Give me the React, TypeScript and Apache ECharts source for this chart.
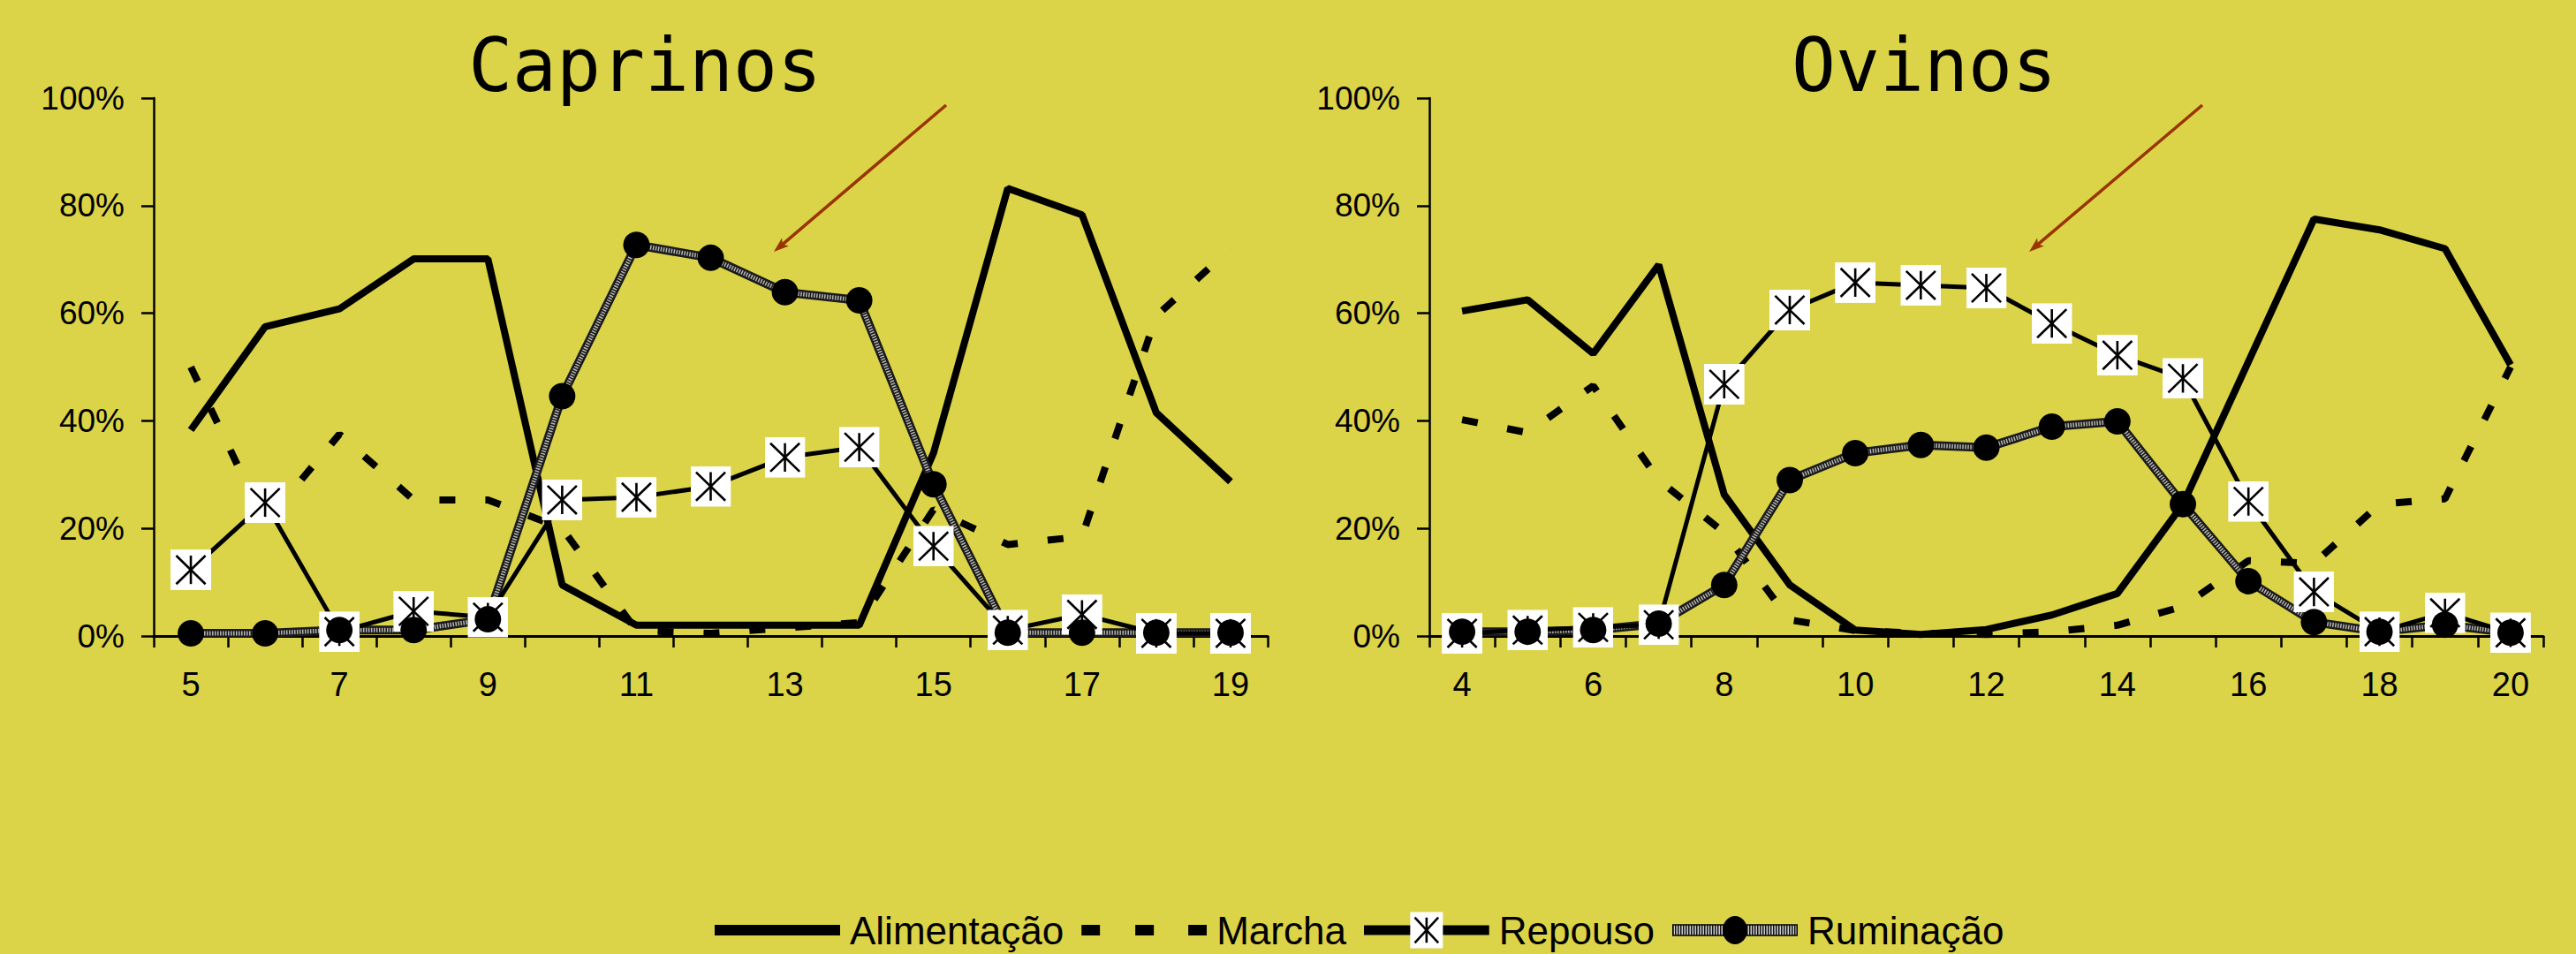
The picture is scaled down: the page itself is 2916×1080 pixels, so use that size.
import React, { useEffect, useRef } from "react";
import * as echarts from "echarts";

// ---------- data ----------
const caprinosHours = ["5", "6", "7", "8", "9", "10", "11", "12", "13", "14", "15", "16", "17", "18", "19"];
const ovinosHours = ["4", "5", "6", "7", "8", "9", "10", "11", "12", "13", "14", "15", "16", "17", "18", "19", "20"];

const capAlimentacao = [38.3, 57.5, 60.8, 70.1, 70.1, 9.5, 2, 2, 2, 2, 34, 83.2, 78.3, 41.5, 28.7];
const capMarcha = [50, 21, 37.5, 25.3, 25.3, 20, 1, 0.5, 1.5, 2.5, 23.5, 17, 18.5, 59.5, 72];
const capRepouso = [12.3, 24.8, 0.8, 4.6, 3.5, 25.3, 25.8, 27.8, 33.2, 35.1, 16.7, 1.1, 4, 0.5, 0.5];
const capRuminacao = [0.5, 0.5, 1.1, 1.1, 3.1, 44.6, 72.7, 70.3, 63.9, 62.4, 28.2, 0.6, 0.6, 0.6, 0.6];

const oviAlimentacao = [60.4, 62.5, 52.5, 69, 26.3, 9.5, 1.1, 0.3, 1.2, 3.9, 7.9, 24.5, 51, 77.5, 75.5, 72, 50.4];
const oviMarcha = [40.2, 37.8, 46.5, 29, 19.2, 3, 1, 0.5, 0.3, 0.8, 2, 5.5, 14, 13.5, 24.5, 25.5, 50];
const oviRepouso = [0.5, 1.1, 1.6, 2.1, 46.8, 60.6, 65.7, 65.2, 64.7, 58.1, 52.2, 47.9, 25, 8.2, 0.8, 4.3, 0.6];
const oviRuminacao = [0.8, 0.8, 1.1, 2.3, 9.5, 29, 34, 35.5, 35, 38.9, 39.9, 24.5, 10.2, 2.6, 0.8, 2.1, 0.6];

const titles = ["Caprinos", "Ovinos"];
const seriesNames = ["Alimentação", "Marcha", "Repouso", "Ruminação"];

// ---------- styling helpers ----------
const BG = "#dbd348";
const FONT = "Liberation Sans, Arial, sans-serif";

const svgImg = (w: number, h: number, body: string) =>
  "image://data:image/svg+xml;charset=utf-8," +
  encodeURIComponent(
    `<svg xmlns="http://www.w3.org/2000/svg" width="${w}" height="${h}" viewBox="0 0 ${w} ${h}">${body}</svg>`
  );

const asterisk = (x: number, y: number, w: number, h: number) => {
  const px = w * 0.14;
  const py = h * 0.15;
  return `<rect x="${x}" y="${y}" width="${w}" height="${h}" fill="#fff"/>
  <g stroke="#000" stroke-width="2.6">
  <line x1="${x + w / 2}" y1="${y + py}" x2="${x + w / 2}" y2="${y + h - py}"/>
  <line x1="${x + px}" y1="${y + py}" x2="${x + w - px}" y2="${y + h - py}"/>
  <line x1="${x + w - px}" y1="${y + py}" x2="${x + px}" y2="${y + h - py}"/>
  </g>`;
};

const repousoSymbol = svgImg(46, 46, asterisk(0, 0, 46, 46));

const LW = 142;
const LH = 46;
const hatchDefs = `<defs><pattern id="h" width="3" height="3" patternUnits="userSpaceOnUse"><rect width="3" height="3" fill="#d0d0d0"/><rect width="1.5" height="3" fill="#111"/></pattern></defs>`;
const legendIcons: Record<string, string> = {
  "Alimentação": svgImg(LW, LH, `<rect x="0" y="17" width="${LW}" height="12" fill="#000"/>`),
  "Marcha": svgImg(
    LW,
    LH,
    `<rect x="0" y="17" width="21" height="12" fill="#000"/><rect x="61" y="17" width="21" height="12" fill="#000"/><rect x="121" y="17" width="21" height="12" fill="#000"/>`
  ),
  "Repouso": svgImg(
    LW,
    LH,
    `<rect x="0" y="17.5" width="${LW}" height="11" fill="#000"/>` + asterisk(52.5, 2.5, 37, 41)
  ),
  "Ruminação": svgImg(
    LW,
    LH,
    hatchDefs +
      `<rect x="0.75" y="17" width="${LW - 1.5}" height="12" fill="url(#h)" stroke="#000" stroke-width="1.5"/><ellipse cx="${LW / 2}" cy="23" rx="14" ry="16" fill="#000"/>`
  ),
};

function arrow(x1: number, y1: number, x2: number, y2: number, color: string) {
  const dx = x2 - x1;
  const dy = y2 - y1;
  const len = Math.sqrt(dx * dx + dy * dy);
  const ux = dx / len;
  const uy = dy / len;
  const hl = 17;
  const hw = 6;
  const bx = x2 - ux * hl;
  const by = y2 - uy * hl;
  return [
    {
      type: "line",
      shape: { x1, y1, x2: bx + ux * 4, y2: by + uy * 4 },
      style: { stroke: color, lineWidth: 3.5 },
      z: 100,
    },
    {
      type: "polygon",
      shape: {
        points: [
          [x2, y2],
          [bx - uy * hw, by + ux * hw],
          [bx + ux * 4, by + uy * 4],
          [bx + uy * hw, by - ux * hw],
        ],
      },
      style: { fill: color },
      z: 100,
    },
  ];
}

function makeSeries(
  idx: number,
  alim: number[],
  marcha: number[],
  rep: number[],
  rum: number[]
) {
  const ax = { xAxisIndex: idx, yAxisIndex: idx };
  return [
    {
      ...ax,
      name: "Alimentação",
      type: "line",
      data: alim,
      symbol: "none",
      lineStyle: { color: "#000", width: 8 },
      itemStyle: { color: "#000" },
    },
    {
      ...ax,
      name: "Marcha",
      type: "line",
      data: marcha,
      symbol: "none",
      lineStyle: { color: "#000", width: 8, type: [18, 34] },
      itemStyle: { color: "#000" },
    },
    {
      ...ax,
      name: "Ruminação",
      type: "line",
      data: rum,
      symbol: "none",
      lineStyle: { color: "#1a1a1a", width: 10 },
      itemStyle: { color: "#000" },
    },
    {
      ...ax,
      type: "line",
      data: rum,
      symbol: "none",
      silent: true,
      lineStyle: { color: "#b5b5b5", width: 5, type: [1.5, 1.5] },
    },
    {
      ...ax,
      name: "Repouso",
      type: "line",
      data: rep,
      symbol: repousoSymbol,
      symbolSize: [46, 46],
      lineStyle: { color: "#000", width: 5 },
      itemStyle: { color: "#000" },
    },
    {
      ...ax,
      type: "line",
      data: rum,
      symbol: "circle",
      symbolSize: 30,
      silent: true,
      lineStyle: { width: 0, opacity: 0 },
      itemStyle: { color: "#000" },
    },
  ];
}

function App() {
  const ref = useRef<HTMLDivElement>(null);

  useEffect(() => {
    if (!ref.current) return;
    const chart = echarts.init(ref.current, undefined, { renderer: "svg" });

    const grids = [
      { left: 174, top: 111, width: 1261, height: 609 },
      { left: 1618, top: 111, width: 1261, height: 609 },
    ];
    const cats = [caprinosHours, ovinosHours];

    const xAxes = cats.map((c, i) => ({
      type: "category",
      gridIndex: i,
      data: c,
      boundaryGap: true,
      axisLine: { show: true, lineStyle: { color: "#000", width: 3 } },
      axisTick: { show: true, interval: 0, length: 13, lineStyle: { color: "#000", width: 2.5 } },
      axisLabel: {
        interval: 1,
        margin: 36,
        color: "#000",
        fontSize: 38,
        fontFamily: FONT,
      },
      splitLine: { show: false },
    }));

    const yAxes = [0, 1].map((i) => ({
      type: "value",
      gridIndex: i,
      min: 0,
      max: 100,
      interval: 20,
      axisLine: { show: true, lineStyle: { color: "#000", width: 2.5 } },
      axisTick: { show: true, length: 14, lineStyle: { color: "#000", width: 2.5 } },
      axisLabel: {
        formatter: "{value}%",
        margin: 33,
        color: "#000",
        fontSize: 37,
        fontFamily: FONT,
      },
      splitLine: { show: false },
    }));

    const option: any = {
      animation: false,
      backgroundColor: BG,
      grid: grids,
      xAxis: xAxes,
      yAxis: yAxes,
      legend: {
        left: 804,
        top: 1025,
        itemWidth: LW,
        itemHeight: LH,
        itemGap: 20,
        selectedMode: false,
        data: seriesNames.map((n) => ({ name: n, icon: legendIcons[n] })),
        textStyle: {
          color: "#000",
          fontSize: 44,
          fontFamily: FONT,
          padding: [0, 0, 0, 6],
        },
      },
      graphic: [
        {
          type: "text",
          x: 730,
          y: 74,
          style: {
            text: titles[0],
            fontSize: 83,
            fontFamily: "DejaVu Sans Mono",
            fill: "#000",
            align: "center",
            verticalAlign: "middle",
          },
        },
        {
          type: "text",
          x: 2178,
          y: 74,
          style: {
            text: titles[1],
            fontSize: 83,
            fontFamily: "DejaVu Sans Mono",
            fill: "#000",
            align: "center",
            verticalAlign: "middle",
          },
        },
        ...arrow(1071, 119, 876, 285, "#993300"),
        ...arrow(2493, 119, 2297, 285, "#993300"),
      ],
      series: [
        ...makeSeries(0, capAlimentacao, capMarcha, capRepouso, capRuminacao),
        ...makeSeries(1, oviAlimentacao, oviMarcha, oviRepouso, oviRuminacao),
      ],
    };

    chart.setOption(option);
    return () => chart.dispose();
  }, []);

  return (
    <div
      ref={ref}
      style={{
        position: "absolute",
        left: 0,
        top: 0,
        width: "2916px",
        height: "1080px",
        background: BG,
      }}
    />
  );
}

export default App;
